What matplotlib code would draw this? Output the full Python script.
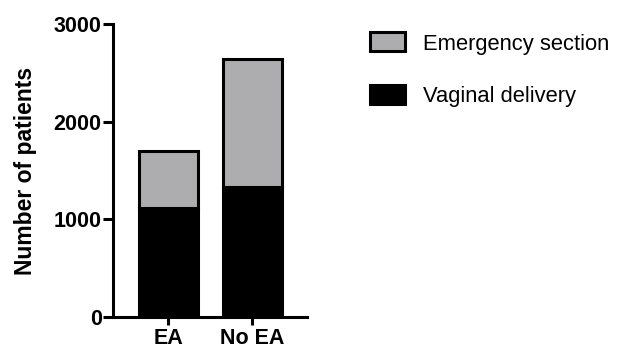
import matplotlib
matplotlib.use("Agg")
import matplotlib.pyplot as plt
import numpy as np

plt.rcParams['font.family'] = ['Liberation Sans', 'DejaVu Sans']

groups = ["EA", "No EA"]
vaginal = [1120, 1335]
emergency = [580, 1305]  # stacked on top of vaginal

fig = plt.figure(figsize=(6.23, 3.54), dpi=100)
ax = fig.add_axes([0.181, 0.1045, 0.312, 0.8275])

x = np.arange(len(groups))
lw = 2.2
ax.bar(x, vaginal, width=0.7, color="black", edgecolor="black", linewidth=lw,
       label="Vaginal delivery", zorder=2)
ax.bar(x, emergency, width=0.7, bottom=vaginal, color="#adadb0", edgecolor="black",
       linewidth=lw, label="Emergency section", zorder=2)

ax.set_xlim(-0.66, 1.65)
ax.set_ylim(0, 3000)
ax.set_yticks([0, 1000, 2000, 3000])
ax.set_xticks(x)
ax.set_xticklabels(groups)
ax.set_ylabel("Number of patients", fontsize=16.5, fontweight="bold", labelpad=12)

for s in ["top", "right"]:
    ax.spines[s].set_visible(False)
for s in ["left", "bottom"]:
    ax.spines[s].set_linewidth(lw)
ax.tick_params(axis="y", width=lw, length=7, labelsize=15.5, pad=1)
ax.tick_params(axis="x", width=lw, length=6, labelsize=15.5, pad=2)
for lab in ax.get_xticklabels() + ax.get_yticklabels():
    lab.set_fontweight("bold")

handles, labels = ax.get_legend_handles_labels()
fig.legend(handles[::-1], labels[::-1], loc="upper left", bbox_to_anchor=(0.562, 0.964),
           frameon=False, fontsize=15.8, handlelength=1.6, handleheight=0.95,
           labelspacing=1.39, handletextpad=0.8)

fig.savefig("out.png", dpi=100)
